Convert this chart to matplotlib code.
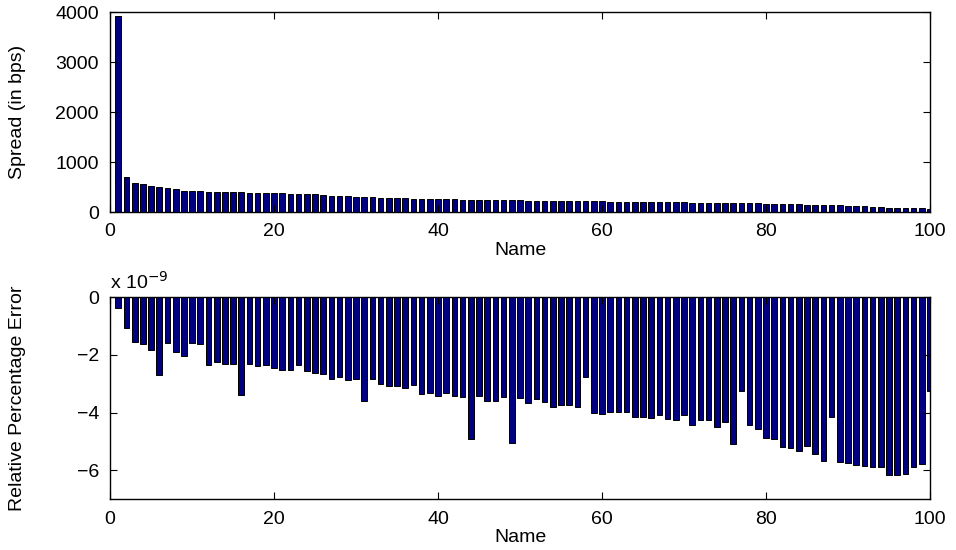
import numpy as np
import matplotlib
matplotlib.use('Agg')
import matplotlib.pyplot as plt

plt.rcParams['font.family'] = ['Liberation Sans', 'DejaVu Sans']

# spread of each name (bps), sorted descending
spread_bps = [3920, 695, 590, 555, 518, 505, 488, 458, 428, 422,
              415, 410, 405, 400, 396, 392, 388, 385, 381, 378,
              374, 370, 366, 360, 354, 345, 320, 317, 311, 306,
              303, 292, 286, 281, 279, 276, 267, 264, 260, 257,
              255, 252, 250, 246, 244, 242, 239, 237, 233, 231,
              230, 228, 227, 224, 222, 219, 218, 216, 213, 212,
              210, 207, 206, 204, 201, 200, 198, 195, 194, 191,
              190, 188, 185, 184, 182, 180, 178, 175, 172, 170,
              166, 163, 160, 156, 150, 145, 140, 136, 131, 127,
              122, 117, 110, 98, 88, 84, 80, 78, 74, 62]

# relative percentage error, in units of 1e-9
rel_err_e9 = [-0.38, -1.08, -1.56, -1.61, -1.83, -2.69, -1.60, -1.91, -2.05, -1.60,
              -1.63, -2.34, -2.24, -2.31, -2.30, -3.38, -2.33, -2.40, -2.36, -2.47,
              -2.53, -2.53, -2.35, -2.57, -2.63, -2.66, -2.85, -2.75, -2.88, -2.83,
              -3.61, -2.85, -3.02, -3.09, -3.09, -3.13, -3.03, -3.37, -3.31, -3.41,
              -3.33, -3.44, -3.45, -4.92, -3.44, -3.58, -3.58, -3.45, -5.05, -3.51,
              -3.68, -3.52, -3.62, -3.82, -3.75, -3.73, -3.79, -2.77, -4.00, -4.06,
              -3.96, -3.96, -3.99, -4.16, -4.16, -4.18, -4.08, -4.21, -4.27, -4.08,
              -4.42, -4.27, -4.27, -4.51, -4.33, -5.07, -3.24, -4.42, -4.58, -4.89,
              -4.91, -5.20, -5.22, -5.33, -5.14, -5.43, -5.67, -4.14, -5.70, -5.74,
              -5.81, -5.84, -5.87, -5.89, -6.14, -6.14, -6.11, -5.87, -5.76, -3.24]

names = np.arange(1, len(spread_bps) + 1)

bar_color = (0, 0, 0.5)
fs = 14

fig = plt.figure(figsize=(9.56, 5.5), dpi=100)
ax1 = fig.add_axes([0.1151, 0.6145, 0.8577, 0.3636])
ax2 = fig.add_axes([0.1151, 0.0920, 0.8577, 0.3680])

ax1.bar(names, spread_bps, width=0.7, color=bar_color, edgecolor='black', linewidth=0.7)
ax1.set_xlim(0, 100)
ax1.set_ylim(0, 4000)
ax1.set_yticks([0, 1000, 2000, 3000, 4000])
ax1.set_xlabel('Name', fontsize=fs, labelpad=1)
ax1.set_ylabel('Spread (in bps)', fontsize=fs)

ax2.bar(names, rel_err_e9, width=0.7, color=bar_color, edgecolor='black', linewidth=0.7)
ax2.set_xlim(0, 100)
ax2.set_ylim(-7, 0)
ax2.set_yticks([-6, -4, -2, 0])
ax2.set_xlabel('Name', fontsize=fs, labelpad=1)
ax2.set_ylabel('Relative Percentage Error', fontsize=fs)
ax2.text(0, 1.02, r'x 10$^{-9}$', transform=ax2.transAxes, fontsize=fs,
         ha='left', va='bottom')

for ax in (ax1, ax2):
    ax.set_xticks([0, 20, 40, 60, 80, 100])
    ax.tick_params(direction='in', top=True, right=True, length=5,
                   labelsize=fs, pad=8)
    ax.yaxis.set_label_coords(-0.102, 0.5)
    for s in ax.spines.values():
        s.set_linewidth(1.0)

fig.savefig('out.png', dpi=100)
